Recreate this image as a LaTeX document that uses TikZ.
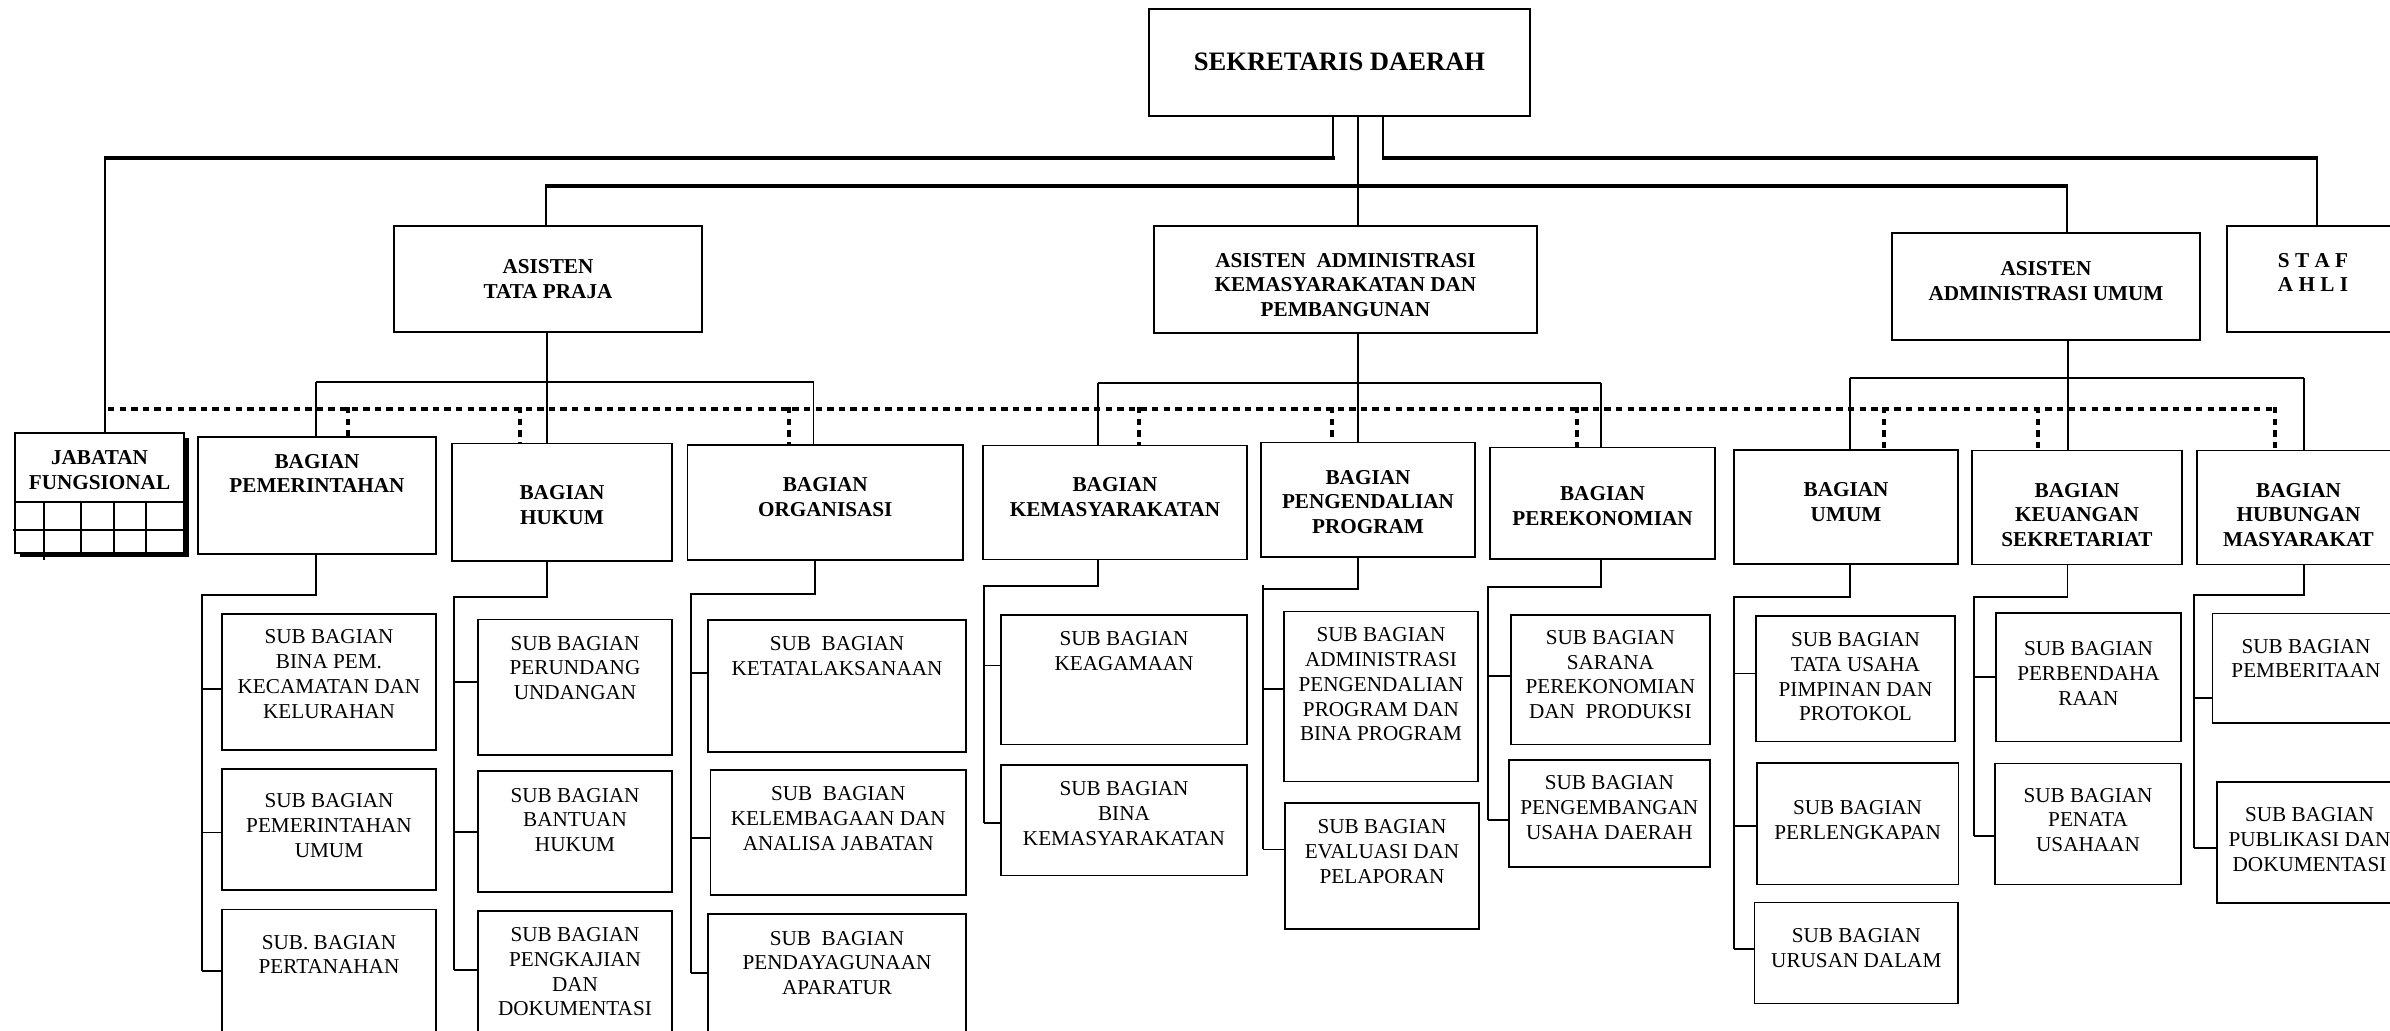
\documentclass[tikz,border=0pt]{standalone}
\usepackage{fontspec}
\setmainfont{Liberation Serif}
\usetikzlibrary{fit}
\tikzset{
  box/.style={draw, line width=0.8pt, inner sep=0pt, outer sep=0pt},
  subtxt/.style={font=\fontsize{10.6}{12.4}\selectfont, align=center, inner sep=0pt},
  bagtxt/.style={font=\bfseries\fontsize{10.6}{12.4}\selectfont, align=center, inner sep=0pt},
  sektxt/.style={font=\bfseries\fontsize{13.3}{16}\selectfont, align=center, inner sep=0pt},
  ln/.style={line width=0.9pt},
  thk/.style={line width=2.2pt},
  dotl/.style={line width=2.4pt, dash pattern=on 3.2pt off 2.6pt},
}
\newcommand\ob[8][subtxt]{%
  \node[box, fit={(#3,#4) (#5,#6)}] (#2) {};
  \node[#1] (#2-t) at ({(#3+#5)/2},#7) {#8};
}
\begin{document}
\begin{tikzpicture}[x=0.5pt, y=-0.5pt]
\useasboundingbox (0,0) rectangle (2390,1031);
\clip (0,0) rectangle (2390,1031);
\fill[white] (0,0) rectangle (2390,1031);

% ---------- level 1 and 2
\ob[sektxt]{sekda}{1149}{9}{1530}{116}{62}{SEKRETARIS DAERAH}
\ob[bagtxt]{asTP}{394}{226}{702}{332}{279}{ASISTEN\\TATA PRAJA}
\ob[bagtxt]{asKP}{1154}{226}{1537}{333}{285}{ASISTEN\ \ ADMINISTRASI\\KEMASYARAKATAN DAN\\PEMBANGUNAN}
\ob[bagtxt]{asAU}{1892}{233}{2200}{340}{281}{ASISTEN\\ADMINISTRASI UMUM}
\ob[bagtxt]{staf}{2227}{226}{2399}{332}{272.5}{S T A F\\A H L I}

% ---------- jabatan fungsional
\fill (20,438) rectangle (189,557);
\node[box, fill=white, fit={(15,433) (184,553)}] (jab) {};
\node[bagtxt] (jab-t) at (99.5,470.5) {JABATAN\\FUNGSIONAL};
\draw[ln] (jab.west |- 0,502) -- (jab.east |- 0,502);
\draw[ln] (13,530) -- (jab.east |- 0,530);
\foreach \x in {81,114,146} \draw[ln] (\x,502) -- (\x,553);
\draw[ln] (44,502) -- (44,560);

% ---------- bagian
\ob[bagtxt]{bPem}{198}{437}{436}{554}{473.5}{BAGIAN\\PEMERINTAHAN}
\ob[bagtxt]{bHuk}{452}{443.5}{672}{561}{505}{BAGIAN\\HUKUM}
\ob[bagtxt]{bOrg}{687.5}{445}{963}{560}{497}{BAGIAN\\ORGANISASI}
\ob[bagtxt]{bKem}{983}{445.5}{1247}{559.4}{497}{BAGIAN\\KEMASYARAKATAN}
\ob[bagtxt]{bPP}{1261}{442.7}{1475}{557}{502}{BAGIAN\\PENGENDALIAN\\PROGRAM}
\ob[bagtxt]{bEko}{1490}{447.5}{1715}{559}{505.7}{BAGIAN\\PEREKONOMIAN}
\ob[bagtxt]{bUmum}{1734}{450}{1958}{564}{502}{BAGIAN\\UMUM}
\ob[bagtxt]{bKeu}{1972}{450.7}{2182}{564.6}{515}{BAGIAN\\KEUANGAN\\SEKRETARIAT}
\ob[bagtxt]{bHum}{2197}{450.7}{2400}{564.6}{515}{BAGIAN\\HUBUNGAN\\MASYARAKAT}

% ---------- sub bagian
\ob{sPem1}{222}{614}{436}{750}{674}{SUB BAGIAN\\BINA PEM.\\KECAMATAN DAN\\KELURAHAN}
\ob{sPem2}{222}{769}{436}{890}{825.5}{SUB BAGIAN\\PEMERINTAHAN\\UMUM}
\ob{sPem3}{222}{909.5}{436}{1045}{954.5}{SUB. BAGIAN\\PERTANAHAN}

\ob{sHuk1}{478}{619.7}{672}{755}{668}{SUB BAGIAN\\PERUNDANG\\UNDANGAN}
\ob{sHuk2}{478}{771}{672}{892}{820}{SUB BAGIAN\\BANTUAN\\HUKUM}
\ob{sHuk3}{478}{911}{672}{1045}{971.7}{SUB BAGIAN\\PENGKAJIAN\\DAN\\DOKUMENTASI}

\ob{sOrg1}{708}{620}{966}{752}{656}{SUB\ \ BAGIAN\\KETATALAKSANAAN}
\ob{sOrg2}{710.5}{770}{966}{895}{818.5}{SUB\ \ BAGIAN\\KELEMBAGAAN DAN\\ANALISA JABATAN}
\ob{sOrg3}{708}{914}{966}{1045}{963}{SUB\ \ BAGIAN\\PENDAYAGUNAAN\\APARATUR}

\ob{sKem1}{1001}{615}{1247}{744.5}{650.7}{SUB BAGIAN\\KEAGAMAAN}
\ob{sKem2}{1001}{765}{1247}{875.7}{813.3}{SUB BAGIAN\\BINA\\KEMASYARAKATAN}

\ob{sPP1}{1284}{611.7}{1478}{781.5}{684.3}{SUB BAGIAN\\ADMINISTRASI\\PENGENDALIAN\\PROGRAM DAN\\BINA PROGRAM}
\ob{sPP2}{1285}{802.8}{1479}{929}{851.7}{SUB BAGIAN\\EVALUASI DAN\\PELAPORAN}

\ob{sEko1}{1510.7}{615}{1710}{744.5}{674.6}{SUB BAGIAN\\SARANA\\PEREKONOMIAN\\DAN\ \ PRODUKSI}
\ob{sEko2}{1508.7}{760}{1710}{867}{807.8}{SUB BAGIAN\\PENGEMBANGAN\\USAHA DAERAH}

\ob{sUm1}{1756}{616}{1955}{741.6}{676.7}{SUB BAGIAN\\TATA USAHA\\PIMPINAN DAN\\PROTOKOL}
\ob{sUm2}{1756.8}{763}{1958.3}{884.5}{820}{SUB BAGIAN\\PERLENGKAPAN}
\ob{sUm3}{1754.6}{902.6}{1958}{1003.6}{948}{SUB BAGIAN\\URUSAN DALAM}

\ob{sKeu1}{1996}{612.9}{2181}{741.6}{673.2}{SUB BAGIAN\\PERBENDAHA\\RAAN}
\ob{sKeu2}{1995}{763.4}{2181}{884.5}{820}{SUB BAGIAN\\PENATA\\USAHAAN}

\ob{sHum1}{2212.6}{613.7}{2399.4}{723}{658.5}{SUB BAGIAN\\PEMBERITAAN}
\ob{sHum2}{2217}{782}{2402}{903}{839.7}{SUB BAGIAN\\PUBLIKASI DAN\\DOKUMENTASI}

% ---------- top connectors
\coordinate (cA) at (1333,158);
\coordinate (cC) at (1383,158);
\coordinate (jabTop) at (105,158);
\coordinate (stafTop) at (2317,158);
\coordinate (tpTop) at (546,186);
\coordinate (auTop) at (2067,186);
\draw[ln] (sekda.south -| cA) -- (cA);
\draw[ln] (sekda.south -| cC) -- (cC);
\draw[ln] (sekda.south -| 1357.6,0) -- (asKP.north -| 1357.6,0);
\draw[thk] (1335,158) -- (104,158);
\draw[ln] (jabTop) -- (jab.north -| jabTop);
\draw[thk] (1382,158) -- (2318,158);
\draw[ln] (stafTop) -- (staf.north -| stafTop);
\draw[thk] (545,186) -- (2068,186);
\draw[ln] (tpTop) -- (asTP.north -| tpTop);
\draw[ln] (auTop) -- (asAU.north -| auTop);

% ---------- asisten to bagian
\coordinate (tpL) at (316,382);
\coordinate (tpR) at (813.5,382);
\draw[ln] (asTP.south -| 546.6,0) -- (bHuk.north -| 546.6,0);
\draw[ln] (tpL) -- (tpR);
\draw[ln] (tpL) -- (bPem.north -| tpL);
\draw[ln] (tpR) -- (bOrg.north -| tpR);

\coordinate (kpL) at (1098,383);
\coordinate (kpR) at (1601,383);
\draw[ln] (asKP.south -| 1357.6,0) -- (bPP.north -| 1357.6,0);
\draw[ln] (kpL) -- (kpR);
\draw[ln] (kpL) -- (bKem.north -| kpL);
\draw[ln] (kpR) -- (bEko.north -| kpR);

\coordinate (auL) at (1849.6,378);
\coordinate (auR) at (2304,378);
\draw[ln] (asAU.south -| 2068,0) -- (bKeu.north -| 2068,0);
\draw[ln] (auL) -- (auR);
\draw[ln] (auL) -- (bUmum.north -| auL);
\draw[ln] (auR) -- (bHum.north -| auR);

% ---------- dotted coordination line
\coordinate (dL) at (108,409);
\coordinate (dR) at (2277,409);
\draw[dotl] (dL) -- (dR);
\foreach \x/\n in {348/bPem, 520/bHuk, 789/bOrg, 1139/bKem, 1332/bPP, 1577/bEko, 1884/bUmum, 2038/bKeu, 2275/bHum}
  \draw[dotl] (\x,407) -- (\n.north -| \x,0);

% ---------- bagian to sub bagian
\draw[ln] (bPem.south -| 316,0) |- (202,595) -- (202,971);
\foreach \y/\n in {689/sPem1, 832.6/sPem2, 971/sPem3} \draw[ln] (202,\y) -- (\n.west |- 0,\y);

\draw[ln] (bHuk.south -| 546.6,0) |- (454,597) -- (454,970);
\foreach \y/\n in {681.7/sHuk1, 831.8/sHuk2, 970/sHuk3} \draw[ln] (454,\y) -- (\n.west |- 0,\y);

\draw[ln] (bOrg.south -| 815,0) |- (690.7,594) -- (690.7,973);
\foreach \y/\n in {673/sOrg1, 837.8/sOrg2, 973/sOrg3} \draw[ln] (690.7,\y) -- (\n.west |- 0,\y);

\draw[ln] (bKem.south -| 1098,0) |- (983.7,586) -- (983.7,823);
\foreach \y/\n in {665.6/sKem1, 823/sKem2} \draw[ln] (983.7,\y) -- (\n.west |- 0,\y);

\draw[ln] (bPP.south -| 1358,0) |- (1263,589) -- (1263,849.5);
\draw[ln] (1263,585) -- (1263,589);
\foreach \y/\n in {689/sPP1, 849.5/sPP2} \draw[ln] (1263,\y) -- (\n.west |- 0,\y);

\draw[ln] (bEko.south -| 1601,0) |- (1488,586.7) -- (1488,819.7);
\foreach \y/\n in {675.7/sEko1, 819.7/sEko2} \draw[ln] (1488,\y) -- (\n.west |- 0,\y);

\draw[ln] (bUmum.south -| 1849.6,0) |- (1734,596.8) -- (1734,949);
\foreach \y/\n in {673.6/sUm1, 825.8/sUm2, 949/sUm3} \draw[ln] (1734,\y) -- (\n.west |- 0,\y);

\draw[ln] (bKeu.south -| 2067.4,0) |- (1973.7,596.8) -- (1973.7,835.8);
\foreach \y/\n in {676.9/sKeu1, 835.8/sKeu2} \draw[ln] (1973.7,\y) -- (\n.west |- 0,\y);

\draw[ln] (bHum.south -| 2304,0) |- (2194,595) -- (2194,848);
\foreach \y/\n in {697.8/sHum1, 848/sHum2} \draw[ln] (2194,\y) -- (\n.west |- 0,\y);
\end{tikzpicture}
\end{document}
